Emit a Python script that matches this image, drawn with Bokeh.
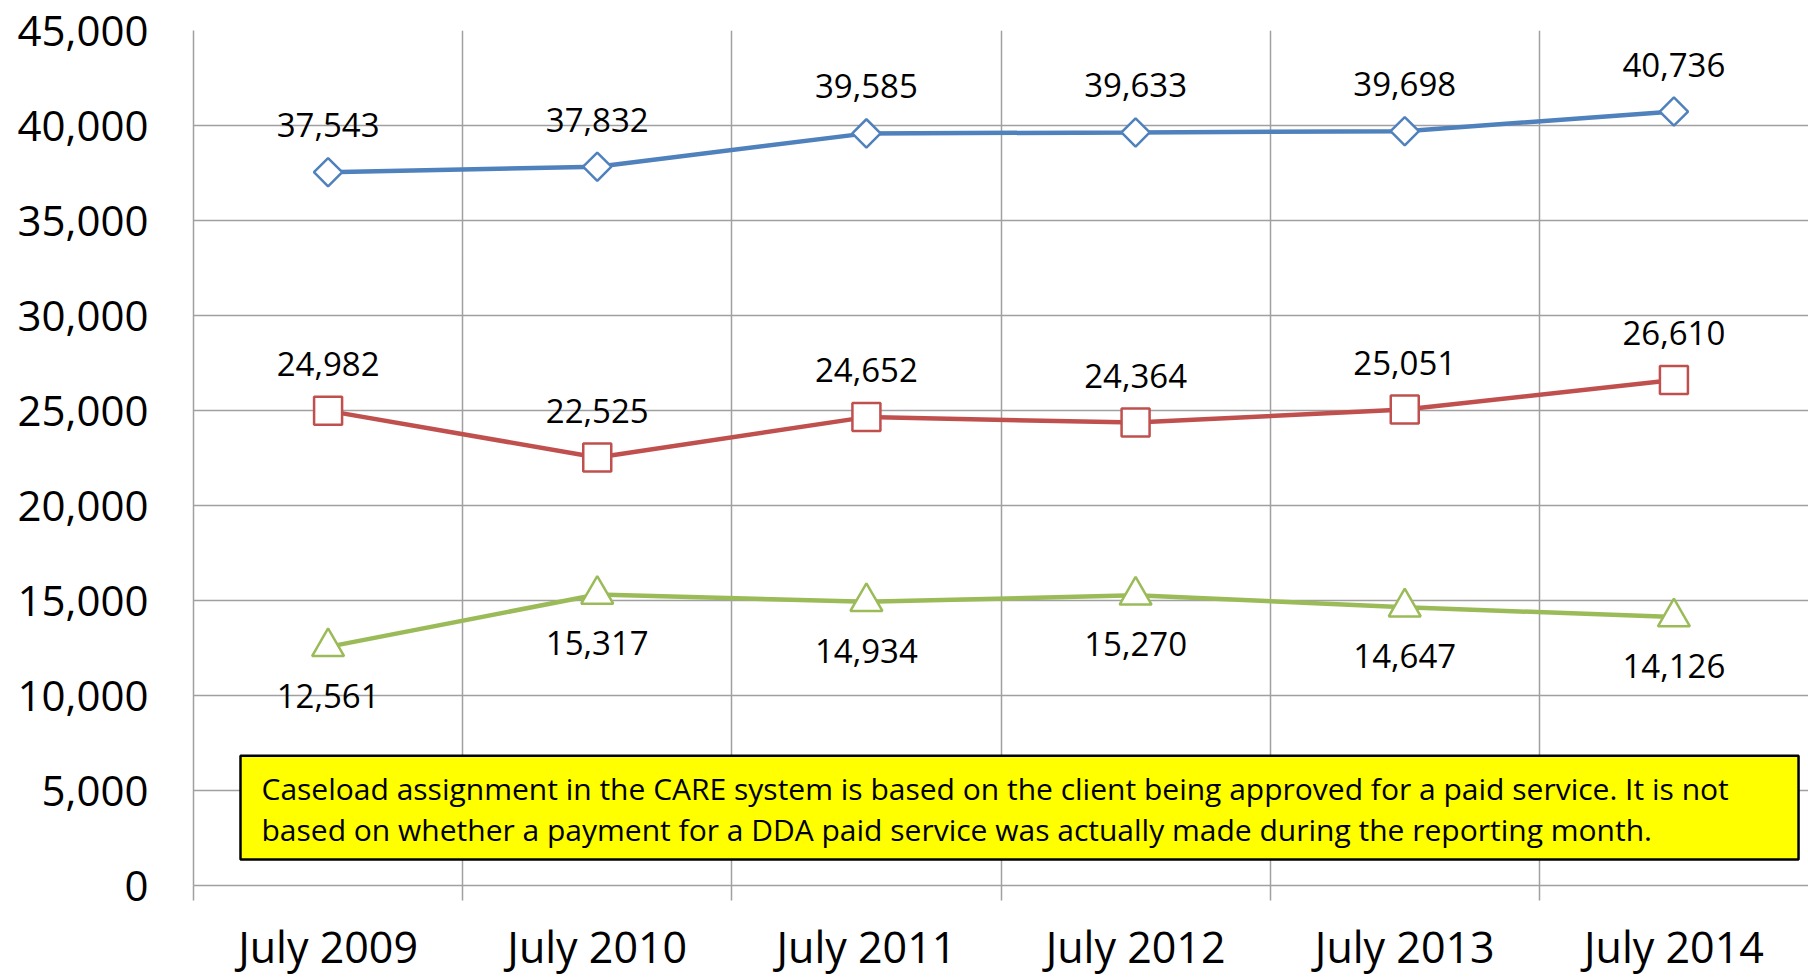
import numpy as np
from bokeh.plotting import figure
from bokeh.models import (Range1d, FixedTicker, NumeralTickFormatter, BoxAnnotation,
                          Label, ColumnDataSource)
from bokeh.core.properties import value
from bokeh.embed import file_html
from bokeh.resources import INLINE

categories = ["July 2009", "July 2010", "July 2011", "July 2012", "July 2013", "July 2014"]
series_blue = [37543, 37832, 39585, 39633, 39698, 40736]
series_red = [24982, 22525, 24652, 24364, 25051, 26610]
series_green = [12561, 15317, 14934, 15270, 14647, 14126]
y_ticks = [0, 5000, 10000, 15000, 20000, 25000, 30000, 35000, 40000, 45000]
note_line1 = ("Caseload assignment in the CARE system is based on the client being approved "
              "for a paid service. It is not")
note_line2 = "based on whether a payment for a DDA paid service was actually made during the reporting month."

FONT = "Open Sans"
GRID = "#a0a0a0"

n = len(categories)
xs = [i + 0.5 for i in range(n)]

p = figure(width=1808, height=978, output_backend="svg", toolbar_location=None,
           x_range=Range1d(0, n), y_range=Range1d(y_ticks[0], y_ticks[-1]),
           min_border_left=193, min_border_right=0, min_border_top=30, min_border_bottom=91)
p.outline_line_color = None
p.background_fill_color = "white"

# x axis
xa = p.xaxis[0]
xa.ticker = FixedTicker(ticks=xs, minor_ticks=list(range(n)))
xa.major_label_overrides = {x: c for x, c in zip(xs, categories)}
xa.major_tick_line_color = None
xa.major_tick_out = 0
xa.major_tick_in = 0
xa.minor_tick_line_color = GRID
xa.minor_tick_line_width = 1.5
xa.minor_tick_out = 15
xa.minor_tick_in = 0
xa.axis_line_color = GRID
xa.axis_line_width = 1.5
xa.major_label_standoff = 16
xa.major_label_text_font = FONT
xa.major_label_text_font_size = "43px"
xa.major_label_text_color = "black"

# y axis
ya = p.yaxis[0]
ya.ticker = FixedTicker(ticks=y_ticks)
ya.formatter = NumeralTickFormatter(format="0,0")
ya.major_tick_line_color = None
ya.major_tick_out = 0
ya.major_tick_in = 0
ya.minor_tick_line_color = None
ya.axis_line_color = GRID
ya.axis_line_width = 1.5
ya.major_label_standoff = 45
ya.major_label_text_font = FONT
ya.major_label_text_font_size = "42px"
ya.major_label_text_color = "black"

p.xgrid.ticker = FixedTicker(ticks=list(range(1, n + 1)))
p.xgrid.grid_line_color = GRID
p.xgrid.grid_line_width = 1.5
p.ygrid.ticker = FixedTicker(ticks=y_ticks)
p.ygrid.grid_line_color = GRID
p.ygrid.grid_line_width = 1.5

specs = [
    (series_blue, "#4f81bd", "square", 20, np.pi / 4, -47),
    (series_red, "#c0504d", "square", 28, 0, -47),
    (series_green, "#9bbb59", "triangle", 32, 0, 49),
]
for vals, col, marker, size, ang, off in specs:
    src = ColumnDataSource(dict(x=xs, y=vals, lab=[f"{v:,}" for v in vals]))
    p.line("x", "y", source=src, line_color=col, line_width=4.5)
    p.scatter("x", "y", source=src, marker=marker, size=size, angle=ang,
              fill_color="white", line_color=col, line_width=2.5)
    p.text("x", "y", text="lab", source=src, text_align="center", text_baseline="middle",
           y_offset=off, text_font=value(FONT), text_font_size="33px", text_color="black")

box = BoxAnnotation(left=0.1746, right=5.963, bottom=1365, top=6826,
                    fill_color="#ffff00", fill_alpha=1.0, line_color="black",
                    line_alpha=1.0, line_width=2.5)
p.add_layout(box)
for txt, yy in [(note_line1, 5094), (note_line2, 2941)]:
    p.add_layout(Label(x=0.2526, y=yy, text=txt, text_font=FONT, text_font_size="30px",
                       text_color="black", text_align="left", text_baseline="alphabetic"))

open("out.html", "w").write(file_html(p, INLINE))
